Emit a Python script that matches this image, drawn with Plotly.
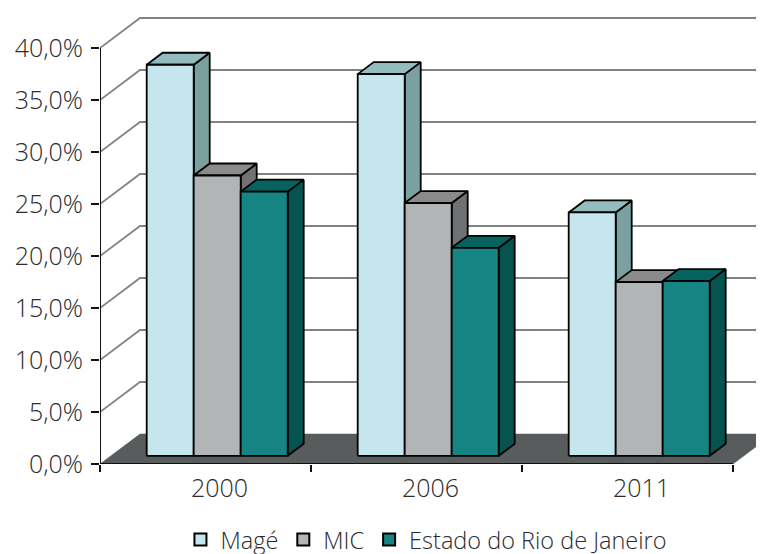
import plotly.graph_objects as go

# values (percent)
years = ["2000", "2006", "2011"]
mage = [37.6, 36.7, 23.4]
mic = [26.95, 24.3, 16.7]
rio = [25.4, 20.0, 16.8]
series_names = ["Magé", "MIC", "Estado do Rio de Janeiro"]
y_ticks = [0, 5, 10, 15, 20, 25, 30, 35, 40]
y_labels = ["0,0%", "5,0%", "10,0%", "15,0%", "20,0%", "25,0%", "30,0%", "35,0%", "40,0%"]

# front, top, side colours per series
colors = [
    ("#c5e6ed", "#92bcbd", "#7aa19f"),
    ("#b1b5b6", "#8a8a8b", "#6f7172"),
    ("#168482", "#06635f", "#055450"),
]

FONT = "Open Sans"
TEXT = "#2b2b2b"

# fake 3D projection, in data units (one category = 211 px, 1% = 10.4 px)
WALL_DX, WALL_DY = 40 / 211, 30 / 10.4
BAR_DX, BAR_DY = 16 / 211, 12 / 10.4
BAR_W = 47 / 211
START_X = 46.7 / 211
BASE_Y = 8.2 / 10.4
LABEL_SHIFT = 14 / 211


def poly(xs, ys, fill, line="black", width=1.8):
    return go.Scatter(
        x=xs, y=ys, mode="lines", fill="toself", fillcolor=fill,
        line=dict(color=line, width=width), showlegend=False, hoverinfo="skip",
    )


fig = go.Figure()

# grid on the walls
for v in y_ticks[1:]:
    fig.add_trace(go.Scatter(
        x=[0, WALL_DX, 3 + WALL_DX], y=[v, v + WALL_DY, v + WALL_DY],
        mode="lines", line=dict(color="#808385", width=1.8),
        showlegend=False, hoverinfo="skip",
    ))

# floor
fig.add_trace(poly(
    [0, 3, 3 + WALL_DX, WALL_DX, 0],
    [0, 0, WALL_DY, WALL_DY, 0],
    "#595c5c", line="#595c5c", width=0.5,
))

# bars, back faces first
for i in range(len(years)):
    for j, values in enumerate([mage, mic, rio]):
        front, top, side = colors[j]
        x0 = i + START_X + j * BAR_W
        x1 = x0 + BAR_W
        y0 = BASE_Y
        y1 = BASE_Y + values[i]
        fig.add_trace(poly(
            [x1, x1 + BAR_DX, x1 + BAR_DX, x1, x1],
            [y0, y0 + BAR_DY, y1 + BAR_DY, y1, y0], side,
        ))
        fig.add_trace(poly(
            [x0, x0 + BAR_DX, x1 + BAR_DX, x1, x0],
            [y1, y1 + BAR_DY, y1 + BAR_DY, y1, y1], top,
        ))
        fig.add_trace(poly(
            [x0, x1, x1, x0, x0], [y0, y0, y1, y1, y0], front,
        ))

# axis lines
fig.add_trace(go.Scatter(
    x=[0, 0, 3], y=[40, 0, 0], mode="lines",
    line=dict(color="#111111", width=2), showlegend=False, hoverinfo="skip",
))

# legend entries
for name, c in zip(series_names, colors):
    fig.add_trace(go.Scatter(
        x=[None], y=[None], mode="markers", name=name,
        marker=dict(symbol="square", size=12, color=c[0], line=dict(color="black", width=2)),
    ))

# the page has an 8 px body margin, so the figure is 8 px smaller each way
fig.update_layout(
    width=756,
    height=546,
    margin=dict(l=92, r=0, t=2, b=90, pad=0),
    paper_bgcolor="white",
    plot_bgcolor="white",
    font=dict(family=FONT, size=25, color=TEXT, weight=300),
    showlegend=True,
    legend=dict(
        orientation="h", xref="container", yref="container",
        x=0.5535, xanchor="center", y=0.026, yanchor="middle",
        font=dict(family=FONT, size=23.5, color=TEXT, weight=300),
        itemwidth=30, traceorder="normal", bgcolor="rgba(0,0,0,0)",
    ),
    xaxis=dict(
        range=[0, 664 / 211], showgrid=False, zeroline=False, showline=False,
        tickmode="array", tickvals=[k + 0.5 + LABEL_SHIFT for k in range(3)], ticktext=years,
        ticks="", ticklabelstandoff=7,
        minor=dict(tickmode="array", tickvals=[0, 1, 2, 3], ticks="outside",
                   ticklen=7, tickwidth=2, tickcolor="#111111", showgrid=False),
    ),
    yaxis=dict(
        range=[0, 454 / 10.4], showgrid=False, zeroline=False, showline=False,
        tickmode="array", tickvals=y_ticks, ticktext=y_labels,
        ticks="outside", ticklen=8, tickwidth=2, tickcolor="#111111",
        ticklabelstandoff=3,
    ),
)

fig.write_html("out.html")
